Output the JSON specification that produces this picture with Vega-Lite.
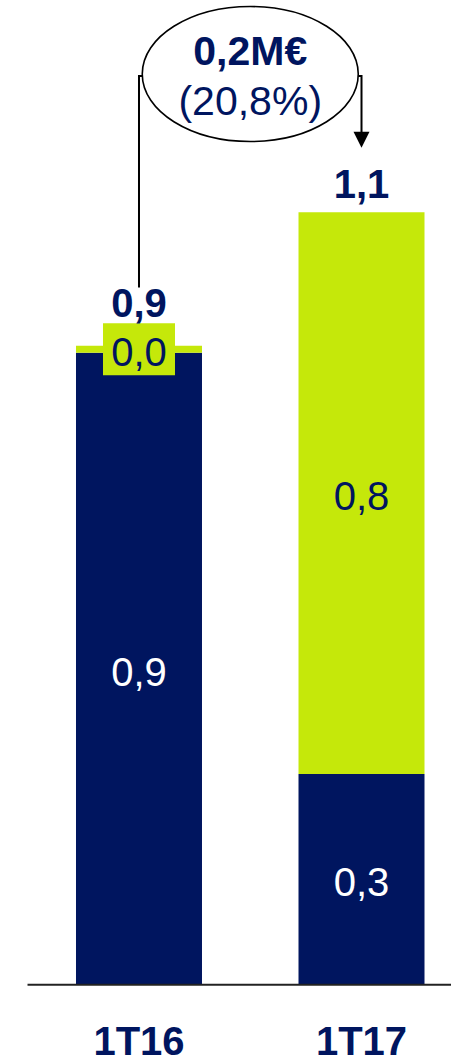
{
  "$schema": "https://vega.github.io/schema/vega-lite/v6.json",
  "width": 456,
  "height": 1063,
  "padding": 0,
  "autosize": {"type": "fit", "contains": "padding"},
  "background": "white",
  "config": {"view": {"stroke": null}, "text": {"font": "Liberation Sans"}},
  "datasets": {
    "segments": [
      {"cat": "1T16", "x": 1, "seg": "Navy", "v": 0.90, "label": "0,9"},
      {"cat": "1T16", "x": 1, "seg": "Verde", "v": 0.01, "label": "0,0"},
      {"cat": "1T17", "x": 2, "seg": "Navy", "v": 0.30, "label": "0,3"},
      {"cat": "1T17", "x": 2, "seg": "Verde", "v": 0.80, "label": "0,8"}
    ],
    "totals": [
      {"cat": "1T16", "x": 1, "total": 0.91, "label": "0,9"},
      {"cat": "1T17", "x": 2, "total": 1.10, "label": "1,1"}
    ],
    "connectors": [
      {"path": "left", "order": 1, "x": 1, "y": 0.993},
      {"path": "left", "order": 2, "x": 1, "y": 1.294},
      {"path": "left", "order": 3, "x": 1.026, "y": 1.294},
      {"path": "right", "order": 1, "x": 1.976, "y": 1.294},
      {"path": "right", "order": 2, "x": 2, "y": 1.294},
      {"path": "right", "order": 3, "x": 2, "y": 1.2035}
    ],
    "change": [
      {"x": 1.5, "y": 1.297, "amount": "0,2M€", "pct": "(20,8%)"}
    ],
    "categories": [
      {"cat": "1T16", "x": 1},
      {"cat": "1T17", "x": 2}
    ]
  },
  "encoding": {
    "x": {"type": "quantitative", "scale": {"domain": [0.3978, 2.4022], "nice": false, "zero": false}, "axis": null},
    "y": {"type": "quantitative", "scale": {"domain": [-0.0973, 1.4024], "nice": false, "zero": false}, "axis": null}
  },
  "layer": [
    {
      "data": {"name": "segments"},
      "transform": [
        {"stack": "v", "groupby": ["cat"], "sort": [{"field": "seg", "order": "ascending"}], "as": ["v0", "v1"]}
      ],
      "mark": {"type": "bar", "width": 126},
      "encoding": {
        "x": {"field": "x", "type": "quantitative"},
        "y": {"field": "v0", "type": "quantitative"},
        "y2": {"field": "v1"},
        "color": {"field": "seg", "type": "nominal", "scale": {"domain": ["Navy", "Verde"], "range": ["#00155F", "#C5E80A"]}, "legend": null}
      }
    },
    {
      "data": {"name": "segments"},
      "transform": [
        {"stack": "v", "groupby": ["cat"], "sort": [{"field": "seg", "order": "ascending"}], "as": ["v0", "v1"]},
        {"fold": ["v0", "v1"], "as": ["k", "pos"]},
        {"aggregate": [{"op": "mean", "field": "pos", "as": "mid"}], "groupby": ["cat", "x", "seg", "label"]}
      ],
      "layer": [
        {
          "transform": [{"filter": "datum.cat === '1T16' && datum.seg === 'Verde'"}],
          "mark": {"type": "point", "filled": true, "opacity": 1, "fill": "#C5E80A", "strokeWidth": 0, "size": 5184, "shape": "M-1,-0.722 L1,-0.722 L1,0.722 L-1,0.722 Z"},
          "encoding": {
            "x": {"field": "x", "type": "quantitative"},
            "y": {"field": "mid", "type": "quantitative"}
          }
        },
        {
          "mark": {"type": "text", "fontSize": 40, "baseline": "middle", "align": "center", "dy": 5},
          "encoding": {
            "x": {"field": "x", "type": "quantitative"},
            "y": {"field": "mid", "type": "quantitative"},
            "text": {"field": "label"},
            "color": {"condition": {"test": "datum.seg === 'Navy'", "value": "white"}, "value": "#00155F"}
          }
        }
      ]
    },
    {
      "data": {"name": "totals"},
      "transform": [{"filter": "datum.cat === '1T16'"}],
      "mark": {"type": "text", "fontSize": 40, "fontWeight": "bold", "baseline": "alphabetic", "align": "center", "dy": -29, "color": "#00155F"},
      "encoding": {
        "x": {"field": "x", "type": "quantitative"},
        "y": {"field": "total", "type": "quantitative"},
        "text": {"field": "label"}
      }
    },
    {
      "data": {"name": "totals"},
      "transform": [{"filter": "datum.cat === '1T17'"}],
      "mark": {"type": "text", "fontSize": 40, "fontWeight": "bold", "baseline": "alphabetic", "align": "center", "dy": -14, "color": "#00155F"},
      "encoding": {
        "x": {"field": "x", "type": "quantitative"},
        "y": {"field": "total", "type": "quantitative"},
        "text": {"field": "label"}
      }
    },
    {
      "data": {"name": "connectors"},
      "mark": {"type": "line", "color": "black", "strokeWidth": 2},
      "encoding": {
        "x": {"field": "x", "type": "quantitative"},
        "y": {"field": "y", "type": "quantitative"},
        "detail": {"field": "path"},
        "order": {"field": "order"}
      }
    },
    {
      "data": {"name": "connectors"},
      "transform": [{"filter": "datum.path === 'right' && datum.order === 3"}],
      "mark": {"type": "point", "filled": true, "opacity": 1, "fill": "black", "strokeWidth": 0, "size": 256, "shape": "M-1,-1 L1,-1 L0,1 Z"},
      "encoding": {
        "x": {"field": "x", "type": "quantitative"},
        "y": {"field": "y", "type": "quantitative"}
      }
    },
    {
      "data": {"name": "change"},
      "layer": [
        {
          "mark": {"type": "point", "filled": false, "fill": "white", "fillOpacity": 1, "opacity": 1, "stroke": "black", "strokeWidth": 1.6, "size": 46656, "shape": "M1,0 C1,0.3452 0.5523,0.625 0,0.625 C-0.5523,0.625 -1,0.3452 -1,0 C-1,-0.3452 -0.5523,-0.625 0,-0.625 C0.5523,-0.625 1,-0.3452 1,0 Z"},
          "encoding": {
            "x": {"field": "x", "type": "quantitative"},
            "y": {"field": "y", "type": "quantitative"}
          }
        },
        {
          "mark": {"type": "text", "fontSize": 41, "fontWeight": "bold", "baseline": "alphabetic", "align": "center", "color": "#00155F", "dy": -9},
          "encoding": {
            "x": {"field": "x", "type": "quantitative"},
            "y": {"field": "y", "type": "quantitative"},
            "text": {"field": "amount"}
          }
        },
        {
          "mark": {"type": "text", "fontSize": 41, "baseline": "alphabetic", "align": "center", "color": "#00155F", "dy": 41},
          "encoding": {
            "x": {"field": "x", "type": "quantitative"},
            "y": {"field": "y", "type": "quantitative"},
            "text": {"field": "pct"}
          }
        }
      ]
    },
    {
      "data": {"values": [{}]},
      "mark": {"type": "rule", "color": "#222222", "strokeWidth": 2},
      "encoding": {
        "x": {"datum": 0.499},
        "x2": {"datum": 2.4022},
        "y": {"datum": 0}
      }
    },
    {
      "data": {"name": "categories"},
      "mark": {"type": "text", "fontSize": 40, "fontWeight": "bold", "baseline": "alphabetic", "align": "center", "color": "#00155F"},
      "encoding": {
        "x": {"field": "x", "type": "quantitative"},
        "y": {"datum": -0.1},
        "text": {"field": "cat"}
      }
    }
  ]
}
